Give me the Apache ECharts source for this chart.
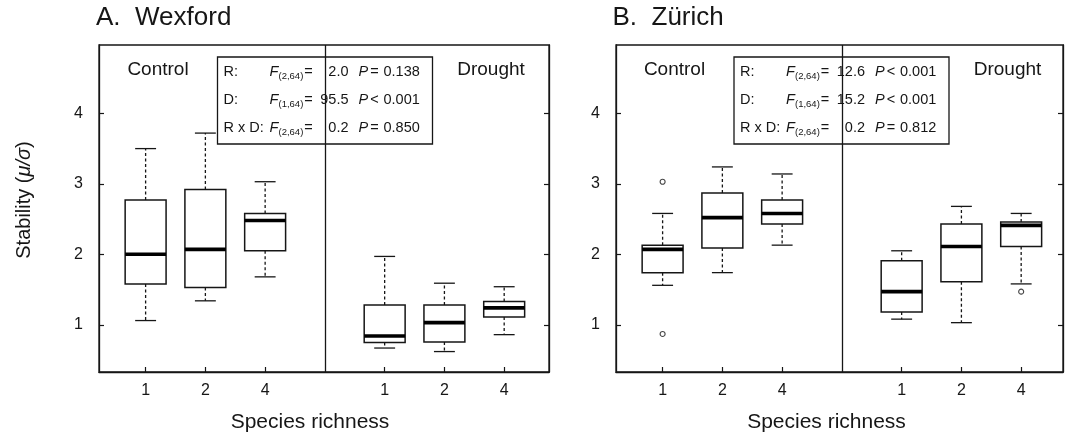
<!DOCTYPE html>
<html>
<head>
<meta charset="utf-8">
<script src="https://cdn.jsdelivr.net/npm/echarts@6/dist/echarts.min.js"></script>
<style>
html,body{margin:0;padding:0;background:#fff;}
#c{width:1072px;height:439px;}
</style>
</head>
<body>
<div id="c"></div>
<script>
// ---------- data ----------
const panelTitles = ['A.  Wexford', 'B.  Zürich'];
const treatments = ['Control', 'Drought'];
const tickLabels = ['1', '2', '4'];
const yTicks = [1, 2, 3, 4];
// [low whisker, Q1, median, Q3, high whisker]; Control 1,2,4 then Drought 1,2,4
const wexfordBoxes = [
  [1.06, 1.58, 2.00, 2.77, 3.50],
  [1.34, 1.53, 2.07, 2.92, 3.72],
  [1.68, 2.05, 2.48, 2.58, 3.03],
  [0.67, 0.75, 0.84, 1.28, 1.97],
  [0.62, 0.755, 1.03, 1.28, 1.59],
  [0.86, 1.11, 1.24, 1.33, 1.54]
];
const zurichBoxes = [
  [1.56, 1.74, 2.07, 2.13, 2.58],
  [1.74, 2.09, 2.52, 2.87, 3.24],
  [2.13, 2.43, 2.58, 2.77, 3.14],
  [1.08, 1.18, 1.47, 1.91, 2.05],
  [1.03, 1.61, 2.11, 2.43, 2.68],
  [1.58, 2.11, 2.41, 2.46, 2.58]
];
const wexfordOutliers = [];
// [group index, value]
const zurichOutliers = [[0, 3.03], [0, 0.87], [5, 1.47]];
// stats rows: [term, df, F, relation, P]
const wexfordStats = [
  ['R:', '(2,64)', '2.0', '=', '0.138'],
  ['D:', '(1,64)', '95.5', '<', '0.001'],
  ['R x D:', '(2,64)', '0.2', '=', '0.850']
];
const zurichStats = [
  ['R:', '(2,64)', '12.6', '<', '0.001'],
  ['D:', '(1,64)', '15.2', '<', '0.001'],
  ['R x D:', '(2,64)', '0.2', '=', '0.812']
];

// ---------- helpers ----------
const FONT = 'Liberation Sans, Arial, sans-serif';
const INK = '#161616';
const groupPos = i => (i < 3 ? i + 1 : i + 2);

function boxData(arr) {
  return arr.map((b, i) => [groupPos(i)].concat(b));
}
function outData(arr) {
  return arr.map(o => [groupPos(o[0]), o[1]]);
}

function renderBox(params, api) {
  const x = api.value(0);
  const lo = api.coord([x, api.value(1)]);
  const q1 = api.coord([x, api.value(2)]);
  const md = api.coord([x, api.value(3)]);
  const q3 = api.coord([x, api.value(4)]);
  const hi = api.coord([x, api.value(5)]);
  const cx = lo[0];
  const bw = api.size([0.685, 0])[0];
  const cw = api.size([0.35, 0])[0];
  const dash = {stroke: INK, lineWidth: 1.3, lineDash: [3, 2.5]};
  const solid = {stroke: INK, lineWidth: 1.3};
  return {
    type: 'group',
    children: [
      {type: 'line', shape: {x1: cx, y1: q3[1], x2: cx, y2: hi[1]}, style: dash},
      {type: 'line', shape: {x1: cx, y1: q1[1], x2: cx, y2: lo[1]}, style: dash},
      {type: 'line', shape: {x1: cx - cw / 2, y1: hi[1], x2: cx + cw / 2, y2: hi[1]}, style: solid},
      {type: 'line', shape: {x1: cx - cw / 2, y1: lo[1], x2: cx + cw / 2, y2: lo[1]}, style: solid},
      {type: 'rect', shape: {x: cx - bw / 2, y: q3[1], width: bw, height: q1[1] - q3[1]},
        style: {fill: '#fff', stroke: INK, lineWidth: 1.5}},
      {type: 'line', shape: {x1: cx - bw / 2, y1: md[1], x2: cx + bw / 2, y2: md[1]},
        style: {stroke: '#000', lineWidth: 3.6}}
    ]
  };
}

const grids = [
  {left: 99, top: 45, width: 450, height: 327},
  {left: 616, top: 45, width: 447, height: 327}
];

const xAxes = [], yAxes = [], series = [];
[0, 1].forEach(g => {
  xAxes.push({
    type: 'value', gridIndex: g, min: 0.22, max: g === 0 ? 7.75 : 7.70,
    axisLine: {show: true, lineStyle: {color: INK, width: 1.3}},
    axisTick: {show: true, inside: true, length: 5, customValues: [1, 2, 3, 5, 6, 7],
      lineStyle: {color: INK, width: 1.2}},
    axisLabel: {show: true, customValues: [1, 2, 3, 5, 6, 7], margin: 11,
      fontSize: 16, fontFamily: FONT, color: INK,
      formatter: v => tickLabels[(Math.round(v) - 1) % 4]},
    splitLine: {show: false}
  });
  yAxes.push({
    type: 'value', gridIndex: g, min: 0.33, max: 4.97, position: 'left',
    axisLine: {show: true, lineStyle: {color: INK, width: 1.3}},
    axisTick: {show: true, inside: true, length: 5, customValues: yTicks,
      lineStyle: {color: INK, width: 1.2}},
    axisLabel: {show: true, customValues: yTicks, margin: 16, fontSize: 16,
      fontFamily: FONT, color: INK, formatter: v => String(v)},
    splitLine: {show: false}
  });
  yAxes.push({
    type: 'value', gridIndex: g, min: 0.33, max: 4.97, position: 'right',
    axisLine: {show: true, lineStyle: {color: INK, width: 1.3}},
    axisTick: {show: true, inside: true, length: 5, customValues: yTicks,
      lineStyle: {color: INK, width: 1.2}},
    axisLabel: {show: false},
    splitLine: {show: false}
  });
});

[[wexfordBoxes, wexfordOutliers], [zurichBoxes, zurichOutliers]].forEach((pair, g) => {
  series.push({
    type: 'custom', xAxisIndex: g, yAxisIndex: g * 2,
    renderItem: renderBox, data: boxData(pair[0]), z: 3,
    markLine: {
      silent: true, symbol: ['none', 'none'], label: {show: false},
      lineStyle: {color: INK, width: 1.3, type: 'solid'},
      data: [{xAxis: 4}]
    }
  });
  series.push({
    type: 'scatter', xAxisIndex: g, yAxisIndex: g * 2, data: outData(pair[1]),
    symbol: 'circle', symbolSize: 5, z: 4,
    itemStyle: {color: '#fff', borderColor: INK, borderWidth: 1.1}
  });
});

// ---------- annotations ----------
const graphic = [];
const panelOffsets = [0, 516.5];
[wexfordStats, zurichStats].forEach((stats, g) => {
  const off = panelOffsets[g];
  const bx = 217.5 + off, by = 57;
  const children = [{
    type: 'rect', shape: {x: 0, y: 0, width: 215, height: 87},
    style: {fill: '#fff', stroke: INK, lineWidth: 1.3}
  }];
  stats.forEach((r, i) => {
    const cy = 15 + i * 28;
    const base = {fontFamily: FONT, fill: INK, verticalAlign: 'middle'};
    children.push({type: 'text', x: 6, y: cy, style: Object.assign({text: r[0], fontSize: 14.5, align: 'left'}, base)});
    children.push({type: 'text', x: 52, y: cy, style: Object.assign({text: 'F', fontSize: 14.5, fontStyle: 'italic', align: 'left'}, base)});
    children.push({type: 'text', x: 61, y: cy + 4, style: Object.assign({text: r[1], fontSize: 9.5, align: 'left'}, base)});
    children.push({type: 'text', x: 91, y: cy, style: Object.assign({text: '=', fontSize: 14.5, align: 'center'}, base)});
    children.push({type: 'text', x: 131, y: cy, style: Object.assign({text: r[2], fontSize: 14.5, align: 'right'}, base)});
    children.push({type: 'text', x: 141, y: cy, style: Object.assign({text: 'P', fontSize: 14.5, fontStyle: 'italic', align: 'left'}, base)});
    children.push({type: 'text', x: 157, y: cy, style: Object.assign({text: r[3], fontSize: 14.5, align: 'center'}, base)});
    children.push({type: 'text', x: 166, y: cy, style: Object.assign({text: r[4], fontSize: 14.5, align: 'left'}, base)});
  });
  graphic.push({type: 'group', x: bx, y: by, z: 100, children: children});

  graphic.push({type: 'text', x: 96 + off, y: 18, z: 100,
    style: {text: panelTitles[g], fontSize: 26, fontFamily: FONT, fill: INK, align: 'left', verticalAlign: 'middle'}});
  graphic.push({type: 'text', x: 158 + off, y: 70, z: 100,
    style: {text: treatments[0], fontSize: 19, fontFamily: FONT, fill: INK, align: 'center', verticalAlign: 'middle'}});
  graphic.push({type: 'text', x: 491 + off, y: 70, z: 100,
    style: {text: treatments[1], fontSize: 19, fontFamily: FONT, fill: INK, align: 'center', verticalAlign: 'middle'}});
  graphic.push({type: 'text', x: 310 + off, y: 422, z: 100,
    style: {text: 'Species richness', fontSize: 21, fontFamily: FONT, fill: INK, align: 'center', verticalAlign: 'middle'}});
});
graphic.push({type: 'text', x: 24, y: 200, rotation: Math.PI / 2, z: 100,
  style: {text: '{a|Stability (}{b|μ/σ}{a|)}', align: 'center', verticalAlign: 'middle', fill: INK,
    rich: {a: {fontSize: 20, fontFamily: FONT, fill: INK}, b: {fontSize: 20, fontFamily: FONT, fontStyle: 'italic', fill: INK}}}});

const chart = echarts.init(document.getElementById('c'), null, {renderer: 'canvas'});
chart.setOption({
  animation: false,
  backgroundColor: '#fff',
  grid: grids.map(g => Object.assign({show: true, borderColor: INK, borderWidth: 1.3, backgroundColor: 'transparent'}, g)),
  xAxis: xAxes,
  yAxis: yAxes,
  series: series,
  graphic: graphic
});
</script>
</body>
</html>
